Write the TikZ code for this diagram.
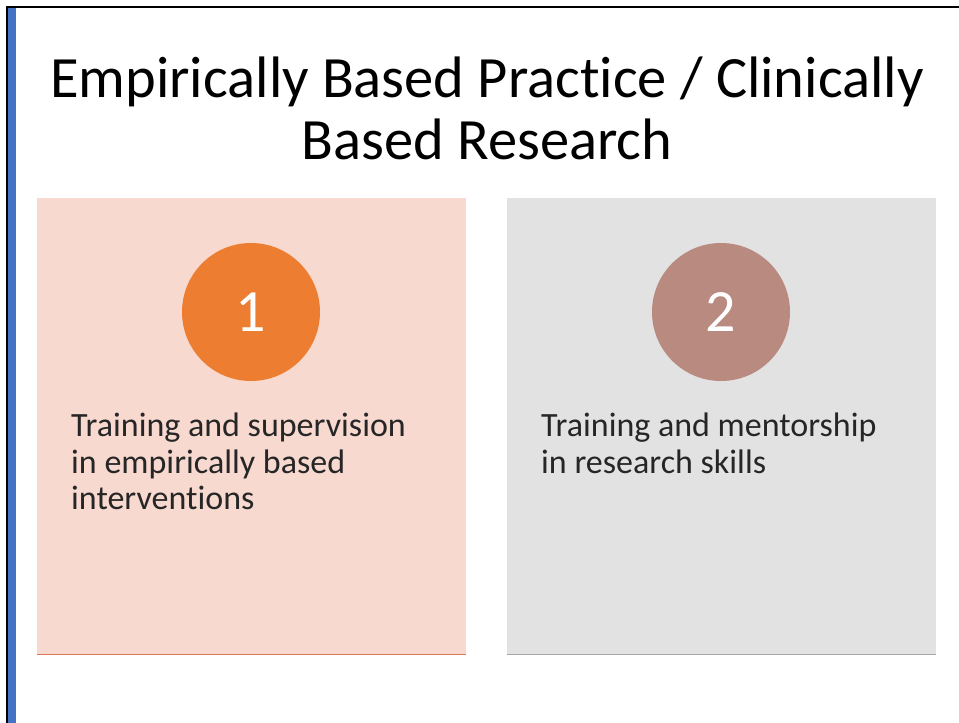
\documentclass[tikz,border=0pt]{standalone}
\usepackage{fontspec}
\setmainfont[Ligatures=NoCommon]{Carlito}
\usepackage{xcolor}
\usepackage{tikz}

\definecolor{pinkbox}{RGB}{248,217,208}
\definecolor{greybox}{RGB}{226,226,226}
\definecolor{orangedot}{RGB}{237,125,49}
\definecolor{mauvedot}{RGB}{185,138,128}
\definecolor{orangeline}{RGB}{220,120,90}
\definecolor{greyline}{RGB}{166,166,166}
\definecolor{slideblue}{RGB}{68,114,196}

\tikzset{
  boxtext/.style={anchor=north west, align=left, inner sep=0pt,
    font=\fontsize{34}{36.5}\selectfont, text=black!85},
  dotnum/.style={circle, minimum size=138pt, inner sep=0pt,
    font=\fontsize{60}{60}\selectfont, text=white}
}

\begin{document}
\begin{tikzpicture}[x=1pt, y=-1pt]
\useasboundingbox (0,0) rectangle (959,723);
\fill[white] (0,0) rectangle (959,723);

% slide frame
\fill[slideblue] (7,7) rectangle (16,723);
\draw[line width=2pt] (7,7) -- (7,723);
\draw[line width=2pt] (6,7) -- (959,7);

% title
\node[align=center, inner sep=0pt, font=\fontsize{58.5}{62}\selectfont] (title) at (487,108)
  {Empirically Based Practice / Clinically\\Based Research};

% boxes
\fill[pinkbox] (37,198) rectangle (466,655);
\draw[orangeline, line width=1.5pt] (37,654.5) -- (466,654.5);
\fill[greybox] (507,198) rectangle (936,655);
\draw[greyline, line width=1.5pt] (507,654.5) -- (936,654.5);

% numbered dots
\node[dotnum, fill=orangedot] (one) at (251,312) {1};
\node[dotnum, fill=mauvedot] (two) at (721,312) {2};

% texts
\node[boxtext] (lefttext) at (71,413)
  {Training and supervision\\in empirically based\\interventions};
\node[boxtext] (righttext) at (541,413)
  {Training and mentorship\\in research skills};
\end{tikzpicture}
\end{document}
